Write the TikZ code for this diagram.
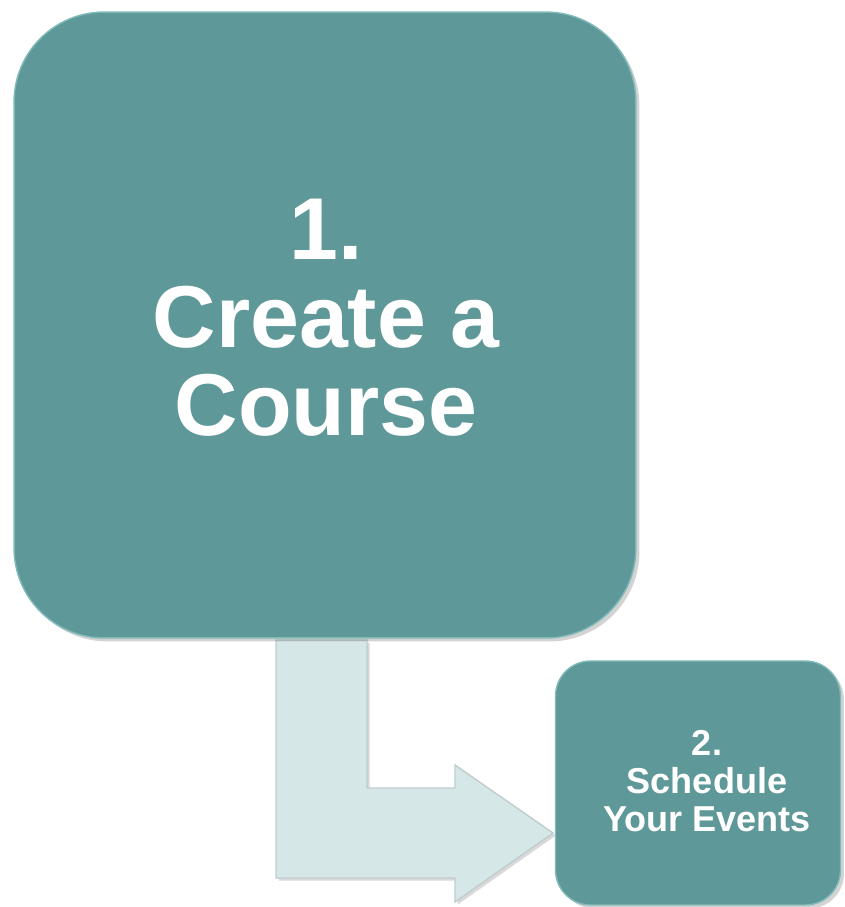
\documentclass[tikz,border=0pt]{standalone}
\usepackage{fontspec}
\setmainfont{Liberation Sans}
\usepackage{xcolor}
\usetikzlibrary{positioning,calc,shadows}
\definecolor{tealbox}{HTML}{5F9898}
\definecolor{tealedge}{HTML}{7FB9B9}
\definecolor{arrowfill}{HTML}{D6E7E7}
\definecolor{arrowedge}{HTML}{BFCDCD}

\begin{document}
\begin{tikzpicture}[x=0.02cm, y=-0.02cm,
  stepbox/.style={draw=tealedge, line width=0.8pt, fill=tealbox, text=white,
    font=\bfseries, align=center, inner sep=0pt,
    drop shadow={opacity=0.35, shadow xshift=2pt, shadow yshift=-2pt}},
  bentarrow/.style={draw=arrowedge, line width=0.8pt, fill=arrowfill,
    drop shadow={opacity=0.3, shadow xshift=1.5pt, shadow yshift=-1.5pt}}]
\useasboundingbox (0,0) rectangle (845,907);

% Bent arrow from step 1 to step 2
\coordinate (elbow) at (367,788);
\coordinate (tip) at (553,833);
\draw[bentarrow] (276,640) -- (367,640) -- (elbow) -- (455,788) -- (455,765)
  -- (tip) -- (455,902) -- (455,878) -- (276,878) -- cycle;

% Step 1
\node[stepbox, rounded corners=1.8cm, minimum width=12.44cm, minimum height=12.52cm,
  font=\bfseries\fontsize{50}{50}\selectfont] (course) at (325,325) {};
\node[text=white, align=center, font=\bfseries\fontsize{50}{50}\selectfont] (coursetext)
  at (326,318) {1.\\Create a\\Course};

% Step 2
\node[stepbox, rounded corners=0.7cm, minimum width=5.7cm, minimum height=4.88cm]
  (events) at (698,783) {};
\node[text=white, align=center, font=\bfseries\fontsize{20.5}{21.8}\selectfont] (eventstext)
  at (707,781) {2.\\Schedule\\Your Events};
\end{tikzpicture}
\end{document}
